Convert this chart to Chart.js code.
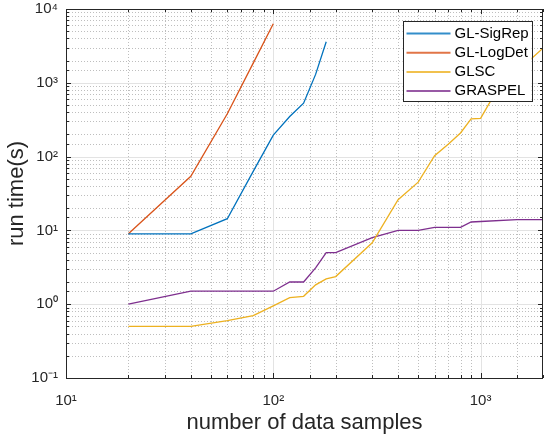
<!DOCTYPE html>
<html>
<head>
<meta charset="utf-8">
<script src="https://cdn.jsdelivr.net/npm/chart.js@4"></script>
<style>
  body { margin: 0; background: #fff; }
  canvas { display: block; }
</style>
</head>
<body>
<canvas id="runtimeChart" width="544" height="436"></canvas>
<script>
// Run time (s) versus number of data samples
const seriesNames = ['GL-SigRep', 'GL-LogDet', 'GLSC', 'GRASPEL'];

const xSigRep = [20, 40, 60, 80, 100, 120, 140, 160, 180];
const ySigRep = [9, 9, 14.4, 63, 195, 350, 530, 1300, 3600];

const xLogDet = [20, 40, 60, 80, 100];
const yLogDet = [9, 54, 380, 1850, 6300];

const xGlsc = [20, 40, 60, 80, 100, 120, 140, 160, 180, 200, 300, 400, 500, 600, 700, 800, 900, 1000, 1200, 1500, 1750, 2000];
const yGlsc = [0.5, 0.5, 0.6, 0.7, 0.95, 1.23, 1.28, 1.83, 2.2, 2.37, 6.8, 26, 45, 103, 148, 209, 325, 330, 800, 1500, 2100, 2950];

const xGraspel = [20, 40, 60, 80, 100, 120, 140, 160, 180, 200, 300, 400, 500, 600, 700, 800, 900, 1000, 1500, 2000];
const yGraspel = [1, 1.5, 1.5, 1.5, 1.5, 2, 2, 3.1, 5, 5, 8, 10, 10, 11, 11, 11, 13, 13.2, 14, 14];

const xRange = [10, 2000];
const yRange = [0.1, 10000];

// matlab default line colours
const colors = ['#0072BD', '#D95319', '#EDB120', '#7E2F8E'];

const FONT = "'Liberation Sans', Arial, Helvetica, sans-serif";
const INK = '#262626';

function toPoints(xs, ys) {
    return xs.map((x, i) => ({ x: x, y: ys[i] }));
}

function isDecade(v) {
    const e = Math.log10(v);
    return Math.abs(e - Math.round(e)) < 1e-9;
}

const SUP = { '-': '\u207B', '0': '\u2070', '1': '\u00B9', '2': '\u00B2', '3': '\u00B3', '4': '\u2074' };
function decadeLabel(v) {
    if (!isDecade(v)) return '';
    const e = String(Math.round(Math.log10(v)));
    return '10' + e.split('').map(c => SUP[c]).join('');
}

// grid, box and inward tick marks like a matlab axes
const matlabAxes = {
    id: 'matlabAxes',
    beforeDatasetsDraw(chart) {
        const { ctx, chartArea: a, scales: { x, y } } = chart;
        const xs = x.ticks.map(t => t.value).filter(v => v > xRange[0] && v < xRange[1]);
        const ys = y.ticks.map(t => t.value).filter(v => v > yRange[0] && v < yRange[1]);
        ctx.save();
        ctx.lineWidth = 1;
        // minor grid, dotted
        ctx.setLineDash([1, 2]);
        ctx.strokeStyle = '#bebebe';
        ctx.beginPath();
        xs.filter(v => !isDecade(v)).forEach(v => {
            const px = Math.round(x.getPixelForValue(v)) + 0.5;
            ctx.moveTo(px, a.top);
            ctx.lineTo(px, a.bottom);
        });
        ys.filter(v => !isDecade(v)).forEach(v => {
            const py = Math.round(y.getPixelForValue(v)) + 0.5;
            ctx.moveTo(a.left, py);
            ctx.lineTo(a.right, py);
        });
        ctx.stroke();
        // major grid, solid
        ctx.setLineDash([]);
        ctx.strokeStyle = '#e3e3e3';
        ctx.beginPath();
        xs.filter(isDecade).forEach(v => {
            const px = Math.round(x.getPixelForValue(v)) + 0.5;
            ctx.moveTo(px, a.top);
            ctx.lineTo(px, a.bottom);
        });
        ys.filter(isDecade).forEach(v => {
            const py = Math.round(y.getPixelForValue(v)) + 0.5;
            ctx.moveTo(a.left, py);
            ctx.lineTo(a.right, py);
        });
        ctx.stroke();
        ctx.restore();
    },
    afterDatasetsDraw(chart) {
        const { ctx, chartArea: a, scales: { x, y } } = chart;
        ctx.save();
        ctx.strokeStyle = INK;
        ctx.lineWidth = 1;
        ctx.beginPath();
        x.ticks.forEach(t => {
            const px = Math.round(x.getPixelForValue(t.value)) + 0.5;
            const len = isDecade(t.value) ? 5 : 3;
            ctx.moveTo(px, a.bottom); ctx.lineTo(px, a.bottom - len);
            ctx.moveTo(px, a.top); ctx.lineTo(px, a.top + len);
        });
        y.ticks.forEach(t => {
            const py = Math.round(y.getPixelForValue(t.value)) + 0.5;
            const len = isDecade(t.value) ? 5 : 3;
            ctx.moveTo(a.left, py); ctx.lineTo(a.left + len, py);
            ctx.moveTo(a.right, py); ctx.lineTo(a.right - len, py);
        });
        ctx.stroke();
        ctx.strokeRect(Math.round(a.left) + 0.5, Math.round(a.top) + 0.5,
            Math.round(a.right - a.left) - 1, Math.round(a.bottom - a.top));
        ctx.restore();
    }
};

// legend box in the upper right corner
const cornerLegend = {
    id: 'cornerLegend',
    afterDraw(chart) {
        const { ctx, chartArea: a } = chart;
        const left = a.right - 140.5, top = a.top + 12, w = 129, h = 80;
        ctx.save();
        ctx.fillStyle = '#fff';
        ctx.fillRect(left, top, w, h);
        ctx.strokeStyle = INK;
        ctx.lineWidth = 1;
        ctx.strokeRect(Math.round(left) + 0.5, Math.round(top) + 0.5, w, h);
        ctx.font = '15px ' + FONT;
        ctx.textBaseline = 'middle';
        chart.data.datasets.forEach((ds, i) => {
            const cy = top + 12.5 + i * 19.2;
            ctx.strokeStyle = ds.borderColor;
            ctx.globalAlpha = 0.8;
            ctx.lineWidth = 2;
            ctx.beginPath();
            ctx.moveTo(left + 4, cy);
            ctx.lineTo(left + 48, cy);
            ctx.stroke();
            ctx.globalAlpha = 1;
            ctx.fillStyle = '#000';
            ctx.fillText(ds.label, left + 52, cy);
        });
        ctx.restore();
    }
};

const seriesPoints = [
    toPoints(xSigRep, ySigRep),
    toPoints(xLogDet, yLogDet),
    toPoints(xGlsc, yGlsc),
    toPoints(xGraspel, yGraspel)
];

new Chart(document.getElementById('runtimeChart'), {
    type: 'line',
    data: {
        datasets: seriesNames.map((name, i) => ({
            label: name,
            data: seriesPoints[i],
            borderColor: colors[i],
            backgroundColor: colors[i],
            borderWidth: 1.3,
            pointRadius: 0,
            tension: 0,
            fill: false
        }))
    },
    options: {
        responsive: false,
        animation: false,
        devicePixelRatio: 1,
        layout: { padding: { top: 9, right: 1, left: 0, bottom: 0 } },
        plugins: {
            legend: { display: false },
            tooltip: { enabled: false }
        },
        scales: {
            x: {
                type: 'logarithmic',
                min: xRange[0],
                max: xRange[1],
                grid: { display: false, drawTicks: false },
                border: { display: false },
                ticks: {
                    autoSkip: false,
                    maxRotation: 0,
                    padding: 14,
                    color: INK,
                    font: { family: FONT, size: 15 },
                    callback: v => decadeLabel(v)
                },
                title: {
                    display: true,
                    text: 'number of data samples',
                    color: INK,
                    font: { family: FONT, size: 22 },
                    padding: { top: 0, bottom: 0 }
                },
                afterFit: scale => {
                    scale.height = 58;
                    scale.paddingLeft = 0;
                    scale.paddingRight = 0;
                }
            },
            y: {
                type: 'logarithmic',
                min: yRange[0],
                max: yRange[1],
                grid: { display: false, drawTicks: false },
                border: { display: false },
                ticks: {
                    autoSkip: false,
                    padding: 8,
                    color: INK,
                    font: { family: FONT, size: 15 },
                    callback: v => decadeLabel(v)
                },
                title: {
                    display: true,
                    text: 'run time(s)',
                    color: INK,
                    font: { family: FONT, size: 22 },
                    padding: { top: 4, bottom: 0 }
                },
                afterFit: scale => {
                    scale.width = 66;
                    scale.paddingTop = 0;
                    scale.paddingBottom = 0;
                }
            }
        }
    },
    plugins: [matlabAxes, cornerLegend]
});
</script>
</body>
</html>
